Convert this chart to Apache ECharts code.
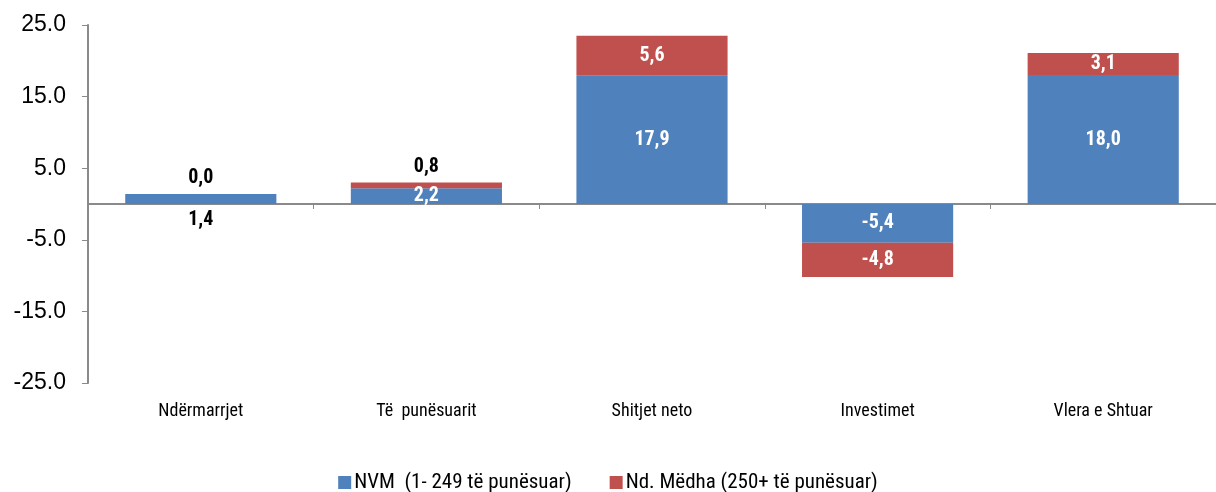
<!DOCTYPE html>
<html>
<head>
<meta charset="utf-8">
<script src="https://cdn.jsdelivr.net/npm/echarts@6/dist/echarts.min.js"></script>
<style>
  html, body { margin: 0; padding: 0; background: #fff; }
  #chart { width: 1216px; height: 492px; }
</style>
</head>
<body>
<div id="chart"></div>
<script>
// te dhenat
var categories = ['Ndërmarrjet', 'Të  punësuarit', 'Shitjet neto', 'Investimet', 'Vlera e Shtuar'];
var nvm = [1.4, 2.2, 17.9, -5.4, 18.0];
var medha = [0.0, 0.8, 5.6, -4.8, 3.1];
var yTicks = [-25, -15, -5, 5, 15, 25];
var seriesNames = ['NVM  (1- 249 të punësuar)', 'Nd. Mëdha (250+ të punësuar)'];

var narrow = "'Liberation Sans Narrow', 'Arial Narrow', 'Roboto Condensed', Roboto, sans-serif";
var fmt = function (v) { return Number(v).toFixed(1).replace('.', ','); };

// bars too thin for an inside label get the label outside, in black
function withLabels(values, outside) {
  return values.map(function (v, i) {
    var item = { value: v };
    if (outside[i]) {
      item.label = { position: outside[i], color: '#000', distance: 6 };
    }
    return item;
  });
}

var chart = echarts.init(document.getElementById('chart'));
chart.setOption({
  animation: false,
  textStyle: { fontFamily: narrow },
  grid: { left: 88, right: 0, top: 25, bottom: 109 },
  legend: {
    top: 467,
    left: 'center',
    itemWidth: 13,
    itemHeight: 13,
    itemGap: 38,
    icon: 'rect',
    textStyle: { fontFamily: narrow, fontSize: 21, color: '#000', padding: [0, 0, 0, -2] },
    data: seriesNames
  },
  xAxis: [{
    type: 'category',
    data: categories,
    axisLine: { onZero: true, lineStyle: { color: '#8a8a8a', width: 2 } },
    axisTick: { show: true, length: 5, lineStyle: { color: '#8a8a8a' } },
    axisLabel: { show: false }
  }, {
    type: 'category',
    data: categories,
    position: 'bottom',
    axisLine: { show: false, onZero: false },
    axisTick: { show: false },
    axisLabel: { color: '#000', fontSize: 18, fontFamily: narrow, margin: 19 }
  }],
  yAxis: {
    type: 'value',
    min: -25,
    max: 25,
    interval: 5,
    splitLine: { show: false },
    axisLine: { show: true, lineStyle: { color: '#8a8a8a', width: 2 } },
    axisTick: { show: true, length: 6, customValues: yTicks, lineStyle: { color: '#8a8a8a' } },
    axisLabel: {
      customValues: yTicks,
      color: '#000',
      fontSize: 23,
      fontFamily: "'Liberation Sans', Arial, sans-serif",
      margin: 22,
      formatter: function (v) { return v.toFixed(1); }
    }
  },
  series: [{
    name: seriesNames[0],
    type: 'bar',
    stack: 'total',
    barWidth: '67%',
    itemStyle: { color: '#4f81bd' },
    label: {
      show: true, position: 'inside', color: '#fff',
      fontFamily: narrow, fontSize: 20, fontWeight: 'bold',
      formatter: function (p) { return fmt(p.value); }
    },
    data: withLabels(nvm, ['bottom', null, null, null, null])
  }, {
    name: seriesNames[1],
    type: 'bar',
    stack: 'total',
    itemStyle: { color: '#c0504d' },
    label: {
      show: true, position: 'inside', color: '#fff',
      fontFamily: narrow, fontSize: 20, fontWeight: 'bold',
      formatter: function (p) { return fmt(p.value); }
    },
    data: withLabels(medha, ['top', 'top', null, null, null])
  }]
});
</script>
</body>
</html>
